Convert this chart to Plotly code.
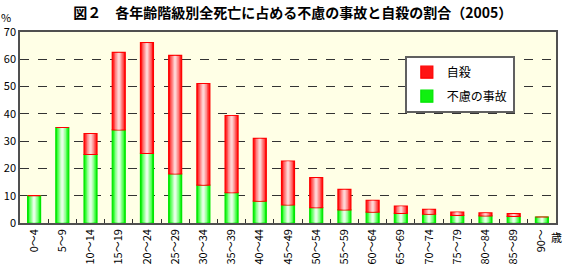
import plotly.graph_objects as go

categories = ["0～4", "5～9", "10～14", "15～19", "20～24", "25～29", "30～34", "35～39",
              "40～44", "45～49", "50～54", "55～59", "60～64", "65～69", "70～74",
              "75～79", "80～84", "85～89", "90～"]
accident = [10.0, 35.0, 25.1, 34.1, 25.5, 18.0, 13.9, 11.1, 8.0, 6.6, 5.6, 4.8, 4.0,
            3.5, 3.2, 2.8, 2.6, 2.4, 2.2]
suicide = [0.0, 0.0, 7.7, 28.4, 40.6, 43.4, 37.2, 28.3, 23.0, 16.1, 11.0, 7.5, 4.3,
           2.7, 1.8, 1.2, 1.1, 1.0, 0.0]

fig = go.Figure()

def add_series(name, y, base, edge, shades, group):
    fig.add_trace(go.Bar(x=categories, y=y, base=base, name=name, width=0.46,
                         marker=dict(color=shades[0], line=dict(color=edge, width=1.2)),
                         showlegend=True, legendgroup=group,
                         legendrank=1 if name == "自殺" else 2))
    inner_y = [v - 0.35 if v > 0.35 else 0 for v in y]
    inner_b = [b + 0.18 for b in base]
    for w, c in zip([0.36, 0.26, 0.16, 0.08], shades[1:]):
        fig.add_trace(go.Bar(x=categories, y=inner_y, base=inner_b, width=w,
                             marker=dict(color=c, line=dict(width=0)),
                             showlegend=False, hoverinfo="skip", legendgroup=group))

add_series("不慮の事故", accident, [0] * len(accident), "#00e600",
           ["#10f010", "#50ff50", "#90ff90", "#c0ffc0", "#e6ffe6"], "acc")
add_series("自殺", suicide, accident, "#ff0000",
           ["#ff1414", "#ff5050", "#ff8888", "#ffb0b0", "#ffd4d4"], "sui")

font_family = "Noto Sans CJK JP, sans-serif"

fig.update_layout(
    width=563, height=267,
    margin=dict(l=20, r=7, t=32, b=44),
    barmode="overlay",
    paper_bgcolor="white",
    plot_bgcolor="#ffffe6",
    font=dict(family=font_family, size=11, color="black"),
    title=dict(text="<b>図２　各年齢階級別全死亡に占める不慮の事故と自殺の割合（2005）</b>",
               x=0.52, xanchor="center", y=0.952, yanchor="middle",
               font=dict(size=14, family=font_family, color="black")),
    showlegend=True,
    legend=dict(x=0.718, y=0.876, xanchor="left", yanchor="top",
                bgcolor="white", bordercolor="#606060", borderwidth=2,
                font=dict(size=12, family=font_family),
                itemwidth=30, tracegroupgap=5),
)

fig.update_xaxes(
    type="category", tickangle=-90, showline=True, linecolor="#505050", linewidth=1.5,
    mirror=True, ticks="inside", ticklen=4, tickcolor="#303030", tickson="boundaries",
    showgrid=False, tickfont=dict(size=11, family=font_family), automargin=False,
)
fig.update_yaxes(
    range=[0, 70], dtick=10, showline=True, linecolor="#505050", linewidth=1.5,
    mirror=True, ticks="", showgrid=True, gridcolor="#333333", griddash="dash",
    gridwidth=1, tickfont=dict(size=11, family=font_family), zeroline=False,
    automargin=False,
)

fig.add_annotation(text="%", xref="paper", yref="paper", x=-0.026, y=1.0, yshift=15,
                   showarrow=False, font=dict(size=11, family=font_family), xanchor="center",
                   yanchor="middle")
fig.add_annotation(text="歳", xref="paper", yref="paper", x=1.0, y=0, yshift=-14,
                   xshift=0, showarrow=False,
                   font=dict(size=11, family=font_family), xanchor="center", yanchor="middle")

fig.write_html("out.html")
